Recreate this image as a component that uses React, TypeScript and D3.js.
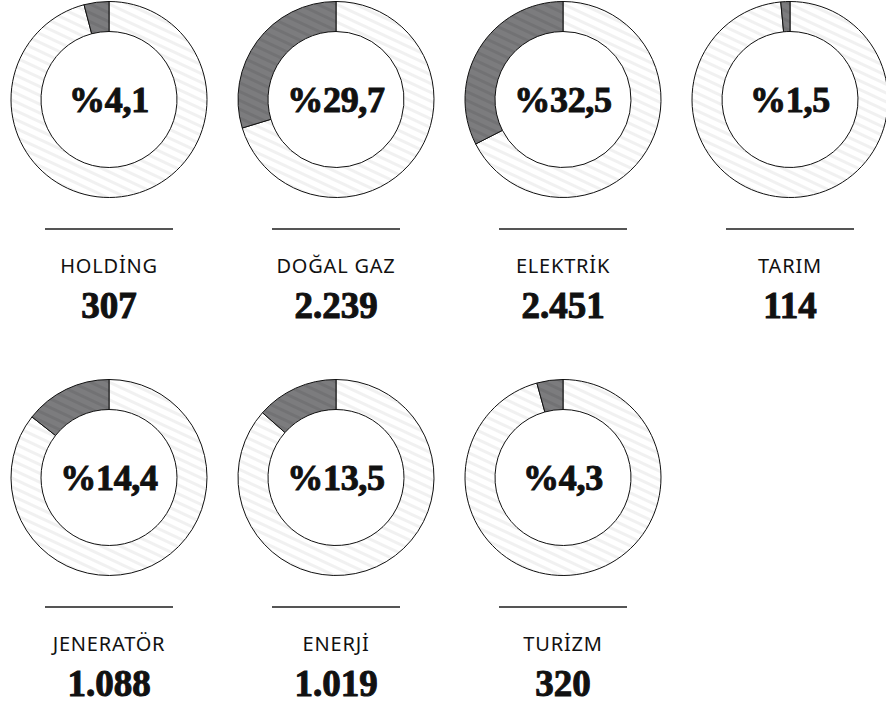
import React from "react"
import { arc, scaleBand, formatLocale } from "d3"

// sector names, share of total (%) and company count
const sectors = ["HOLDİNG", "DOĞAL GAZ", "ELEKTRİK", "TARIM", "JENERATÖR", "ENERJİ", "TURİZM"]
const shares = [4.1, 29.7, 32.5, 1.5, 14.4, 13.5, 4.3]
const counts = [307, 2239, 2451, 114, 1088, 1019, 320]

const tr = formatLocale({ decimal: ",", thousands: ".", grouping: [3], currency: ["", " TL"] })
const fmtShare = tr.format(".1f")
const fmtCount = tr.format(",d")

export default function App() {
	/** page dimensions */
	const width = 886
	const height = 708
	const perRow = 4
	const rowHeight = 378

	/** donut geometry */
	const outerR = 98
	const innerR = 68
	const cy0 = 99.5

	const xScale = scaleBand<number>()
		.domain([0, 1, 2, 3])
		.range([-4.5, 903.5])

	const ringArc = arc<any>().innerRadius(innerR).outerRadius(outerR)
	const full = Math.PI * 2

	return (
		<svg width={width} height={height} style={{ position: "absolute", left: 0, top: 0 }}>
			<defs>
				<pattern id="hatch-light" width={8} height={8} patternUnits="userSpaceOnUse" patternTransform="rotate(25)">
					<rect width={8} height={8} fill="#ffffff" />
					<rect width={8} height={3} fill="#f1f1f1" />
				</pattern>
				<pattern id="hatch-dark" width={8} height={8} patternUnits="userSpaceOnUse" patternTransform="rotate(25)">
					<rect width={8} height={8} fill="#7c7c7e" />
					<rect width={8} height={3} fill="#727274" />
				</pattern>
			</defs>
			{sectors.map((name, i) => {
				const col = i % perRow
				const row = Math.floor(i / perRow)
				const cx = xScale(col)! + xScale.bandwidth() / 2
				const cy = cy0 + row * rowHeight
				const a = (shares[i] / 100) * full
				return (
					<g key={name} transform={`translate(${cx},${cy})`}>
						<path
							d={ringArc({ startAngle: 0, endAngle: full - a }) || ""}
							fill="url(#hatch-light)"
							stroke="#111"
							strokeWidth={1}
						/>
						<path
							d={ringArc({ startAngle: -a, endAngle: 0 }) || ""}
							fill="url(#hatch-dark)"
							stroke="#111"
							strokeWidth={1}
						/>
						<text
							y={12.5}
							textAnchor="middle"
							fontFamily="'Liberation Serif', serif"
							fontWeight={700}
							fontSize={36}
							letterSpacing={-0.3}
							fill="#111"
							stroke="#111"
							strokeWidth={1}
						>
							%{fmtShare(shares[i])}
						</text>
						<line x1={-64} x2={64} y1={129.5} y2={129.5} stroke="#555" strokeWidth={2} />
						<text
							y={173.5}
							textAnchor="middle"
							fontFamily="'Noto Sans', sans-serif"
							fontWeight={400}
							fontSize={20}
							letterSpacing={0.8}
							fill="#111"
						>
							{name}
						</text>
						<text
							y={218.5}
							textAnchor="middle"
							fontFamily="'Liberation Serif', serif"
							fontWeight={700}
							fontSize={37}
							fill="#111"
							stroke="#111"
							strokeWidth={1}
						>
							{fmtCount(counts[i])}
						</text>
					</g>
				)
			})}
		</svg>
	)
}
